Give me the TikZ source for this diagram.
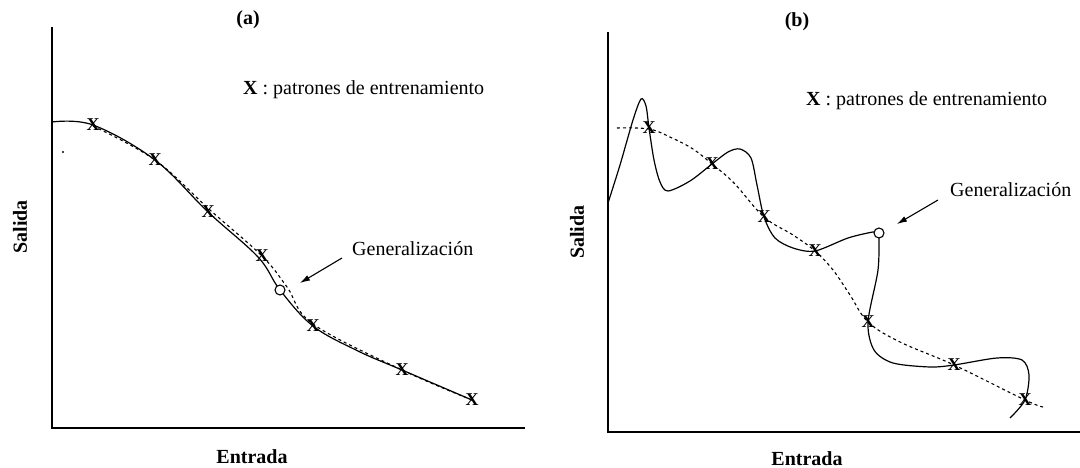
\documentclass[tikz,border=0pt]{standalone}
\usepackage{fontspec}
\setmainfont{Liberation Serif}
\usepackage{tikz}
\usetikzlibrary{arrows.meta}

\tikzset{
  eje/.style={line width=1.6pt},
  curva/.style={line width=1.2pt},
  ajuste/.style={line width=1.1pt, dash pattern=on 3pt off 3pt},
  patron/.style={font=\fontsize{18}{18}\selectfont\bfseries, inner sep=0pt},
  leyenda/.style={font=\fontsize{20}{20}\selectfont, inner sep=0pt, anchor=west},
  rotulo/.style={font=\fontsize{20}{20}\selectfont\bfseries, inner sep=0pt},
  gener/.style={circle, draw, line width=1.1pt, fill=white, minimum size=10pt, inner sep=0pt},
  flecha/.style={line width=1.1pt, -{Latex[length=10pt,width=6pt]}}
}

\begin{document}
\begin{tikzpicture}[x=1pt,y=-1pt]
\useasboundingbox (0,0) rectangle (1080,468);

\coordinate (oa) at (52,428);
\coordinate (ya) at (52,27);
\coordinate (xa) at (525,428);
\draw[eje] (ya) -- (oa) -- (xa);

\node[rotulo] (ta) at (248,20) {(a)};
\node[leyenda] (la) at (243,90) {\textbf{X} : patrones de entrenamiento};
\node[rotulo, rotate=90] (sa) at (20,227) {Salida};
\node[rotulo] (ea) at (252,457) {Entrada};

\draw[ajuste] plot[smooth, tension=0.6] coordinates {(93,126) (155,160) (210,210) (262,256) (287,287) (313,324) (402,370) (472,400)};
\draw[curva] plot[smooth, tension=0.6] coordinates {(52,122) (93,125) (155,160) (208,212) (258,257) (280,290) (313,326) (358,351) (402,370) (472,400)};

\node[patron] (xa1) at (93,125) {X};
\node[patron] (xa2) at (155,160) {X};
\node[patron] (xa3) at (208,212) {X};
\node[patron] (xa4) at (262,256) {X};
\node[patron] (xa5) at (313,326) {X};
\node[patron] (xa6) at (402,370) {X};
\node[patron] (xa7) at (472,400) {X};
\node[gener] (ga) at (280,290) {};
\fill (63,152) circle[radius=1.2pt];

\node[leyenda] (na) at (352,249) {Generalización};
\coordinate (fa) at (342,258);
\coordinate (pa) at (300,283);
\draw[flecha] (fa) -- (pa);

\coordinate (ob) at (608,432);
\coordinate (yb) at (608,32);
\coordinate (xb) at (1080,432);
\draw[eje] (yb) -- (ob) -- (xb);

\node[rotulo] (tb) at (797,22) {(b)};
\node[leyenda] (lb) at (806,101) {\textbf{X} : patrones de entrenamiento};
\node[rotulo, rotate=90] (sb) at (577,232) {Salida};
\node[rotulo] (eb) at (807,459) {Entrada};

\draw[ajuste] plot[smooth, tension=0.6] coordinates {(617,128) (649,129) (672,138) (693,149) (712,164) (734,183) (764,217) (793,235) (815,251) (833,270) (850,295) (868,322) (900,342) (954,365) (1025,400) (1043,407)};
\draw[curva] plot[smooth, tension=0.5] coordinates {(608,203) (620,165) (633,120) (641,99) (646,106) (649,128) (654,160) (660,182) (668,191) (690,181) (712,164) (728,152) (740,149) (751,158) (757,185) (764,217) (775,238) (793,248) (815,251) (848,238) (873,232) (879,233)};
\draw[curva] plot[smooth, tension=0.5] coordinates {(879,233) (878,270) (868,322) (874,350) (893,363) (930,367) (954,365) (997,358) (1022,360) (1029,375) (1025,400) (1010,418)};

\node[patron] (xb1) at (649,128) {X};
\node[patron] (xb2) at (712,164) {X};
\node[patron] (xb3) at (764,217) {X};
\node[patron] (xb4) at (815,251) {X};
\node[patron] (xb5) at (868,322) {X};
\node[patron] (xb6) at (954,365) {X};
\node[patron] (xb7) at (1025,400) {X};
\node[gener] (gb) at (879,233) {};

\node[leyenda] (nb) at (950,190) {Generalización};
\coordinate (fb) at (938,200);
\coordinate (pb) at (897,224);
\draw[flecha] (fb) -- (pb);

\end{tikzpicture}
\end{document}
